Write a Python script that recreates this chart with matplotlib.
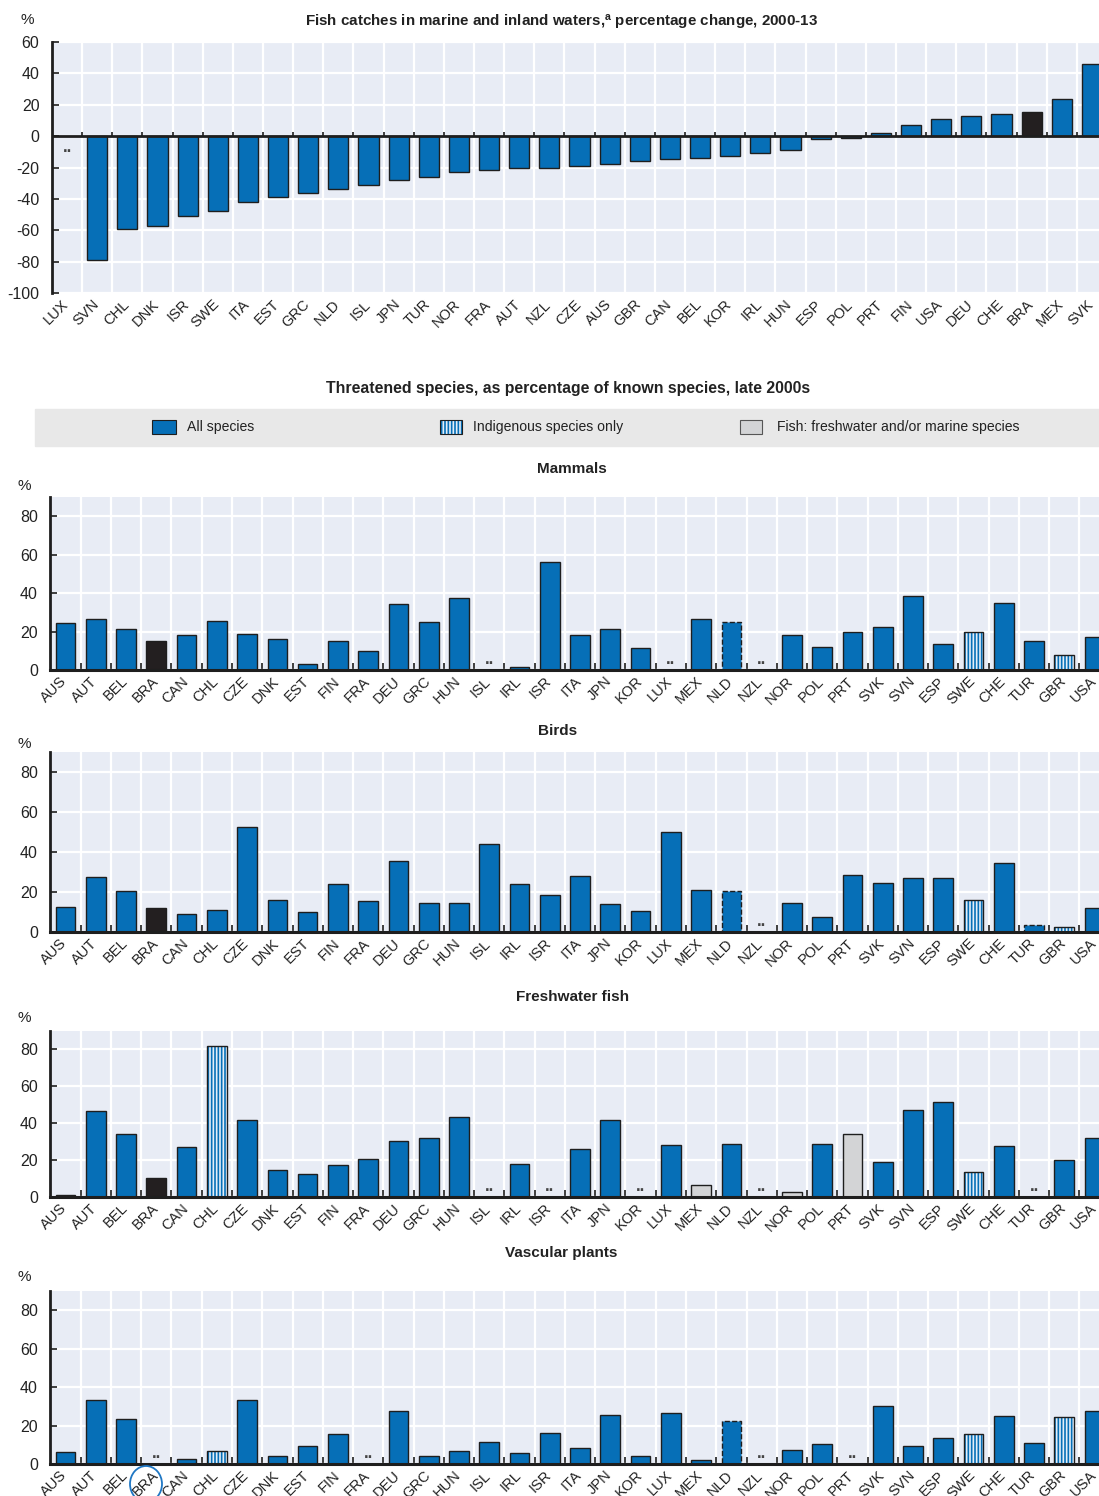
import numpy as np
import matplotlib
matplotlib.use("Agg")
import matplotlib.pyplot as plt
from matplotlib import font_manager
from matplotlib.transforms import ScaledTranslation
from matplotlib.patches import Rectangle, Ellipse

# prefer a narrow sans face when one is available
installed = {f.name for f in font_manager.fontManager.ttflist}
if 'Liberation Sans Narrow' in installed:
    families = ['Liberation Sans Narrow', 'DejaVu Sans']
    scale = 1.1
else:
    families = ['Liberation Sans', 'DejaVu Sans']
    scale = 1.0
plt.rcParams['font.family'] = families
plt.rcParams['mathtext.default'] = 'regular'
plt.rcParams['axes.unicode_minus'] = False
plt.rcParams['hatch.linewidth'] = 1.2

# --- fish catches, % change 2000-13 (None = not available) ---
catch_countries = ['LUX', 'SVN', 'CHL', 'DNK', 'ISR', 'SWE', 'ITA', 'EST', 'GRC', 'NLD',
                   'ISL', 'JPN', 'TUR', 'NOR', 'FRA', 'AUT', 'NZL', 'CZE', 'AUS', 'GBR',
                   'CAN', 'BEL', 'KOR', 'IRL', 'HUN', 'ESP', 'POL', 'PRT', 'FIN', 'USA',
                   'DEU', 'CHE', 'BRA', 'MEX', 'SVK']
catch_change = [None, -79, -59, -57, -51, -48, -42, -39, -36, -34,
                -31, -28, -26, -23, -21.5, -20.5, -20, -19, -18, -16,
                -14.7, -14, -12.6, -11, -9, -2, -1.5, 2.3, 7.4, 11,
                12.8, 13.8, 15.1, 23.8, 45.7]

# --- threatened species, % of known species, late 2000s ---
species_countries = ['AUS', 'AUT', 'BEL', 'BRA', 'CAN', 'CHL', 'CZE', 'DNK', 'EST', 'FIN',
                     'FRA', 'DEU', 'GRC', 'HUN', 'ISL', 'IRL', 'ISR', 'ITA', 'JPN', 'KOR',
                     'LUX', 'MEX', 'NLD', 'NZL', 'NOR', 'POL', 'PRT', 'SVK', 'SVN', 'ESP',
                     'SWE', 'CHE', 'TUR', 'GBR', 'USA']
mammals = [24.3, 26.7, 21.3, 15.0, 18.3, 25.7, 18.7, 16.2, 3.1, 15.2,
           10.0, 34.2, 25.0, 37.6, None, 1.4, 56.4, 18.2, 21.1, 11.2,
           None, 26.7, 25.2, None, 18.2, 11.9, 19.6, 22.4, 38.4, 13.3,
           19.9, 34.6, 15.2, 7.9, 17.3]
birds = [12.6, 27.3, 20.6, 12.0, 8.8, 10.8, 52.6, 16.1, 10.1, 24.0,
         15.6, 35.6, 14.3, 14.6, 44.1, 24.1, 18.5, 27.8, 14.0, 10.5,
         50.1, 20.8, 20.6, None, 14.6, 7.5, 28.3, 24.5, 27.1, 26.8,
         16.0, 34.6, 3.7, 2.3, 12.1]
freshwater_fish = [1.3, 46.7, 34.2, 10.3, 27.2, 82.0, 41.8, 14.8, 12.3, 17.5,
                   20.7, 30.5, 31.9, 43.4, None, 18.0, None, 25.9, 41.8, None,
                   28.1, 6.5, 28.5, None, 2.7, 28.8, 33.9, 19.1, 47.2, 51.5,
                   13.5, 27.4, None, 20.2, 31.9]
vascular_plants = [6.4, 33.5, 23.4, None, 2.8, 6.9, 33.3, 4.0, 9.4, 15.8,
                   None, 27.4, 4.2, 6.8, 11.6, 5.7, 16.3, 8.3, 25.3, 4.2,
                   26.6, 2.1, 22.4, None, 7.3, 10.4, None, 30.4, 9.5, 13.5,
                   15.6, 25.2, 10.8, 24.3, 27.4]

# countries drawn differently in each panel
partner_countries = ['BRA']
mammals_indigenous = ['SWE', 'GBR']
birds_indigenous = ['SWE', 'GBR']
fish_indigenous = ['CHL', 'SWE']
fish_marine = ['MEX', 'NOR', 'PRT']
plants_indigenous = ['CHL', 'SWE', 'GBR']
mammals_dashed = ['NLD']
birds_dashed = ['NLD', 'TUR']
plants_dashed = ['NLD']

BLUE = '#066fb7'
DARK = '#231f20'
EDGE = '#1e1e1e'
TEXT = '#222222'
BG = '#e8ecf5'
GREY = '#d3d4d6'
STRIPE_BG = '#e4eef8'

W, H = 1099, 1496
fig = plt.figure(figsize=(W / 100, H / 100), dpi=100)
label_shift = ScaledTranslation(-4 / 72, 0, fig.dpi_scale_trans)


def fx(px):
    return px / W


def fy(py):
    return 1 - py / H


def style_axes(ax, n, ylim, yticks):
    ax.set_facecolor(BG)
    ax.set_xlim(-0.5, n - 0.5)
    ax.set_ylim(*ylim)
    ax.set_yticks(yticks)
    ax.set_xticks(np.arange(n), minor=False)
    ax.set_xticks(np.arange(0.5, n - 0.5, 1), minor=True)
    ax.set_axisbelow(True)
    ax.grid(which='minor', axis='x', color='white', lw=1.6)
    ax.grid(which='major', axis='y', color='white', lw=1.6)
    for s in ['top', 'right']:
        ax.spines[s].set_visible(False)
    ax.spines['left'].set_linewidth(2)
    ax.spines['left'].set_color(EDGE)
    ax.tick_params(axis='y', direction='in', length=5, width=1.2, color=EDGE,
                   labelsize=11.5 * scale, pad=9, labelcolor=TEXT)
    ax.tick_params(axis='x', which='major', length=0, pad=3, labelsize=10.5 * scale,
                   labelcolor=TEXT)


def set_country_labels(ax, countries):
    ax.set_xticklabels(countries, rotation=45, ha='right', rotation_mode='anchor')
    for lbl in ax.get_xticklabels():
        lbl.set_transform(lbl.get_transform() + label_shift)


def draw_bars(ax, countries, values, width, indigenous=(), grey=(), dashed=(),
              dots_below=False):
    for i, (c, v) in enumerate(zip(countries, values)):
        if v is None:
            if dots_below:
                ax.annotate('..', (i, 0), xytext=(0, -3), textcoords='offset points',
                            ha='center', va='top', fontsize=12, color='#444444',
                            fontweight='bold')
            else:
                ax.annotate('..', (i, 0), xytext=(0, 2), textcoords='offset points',
                            ha='center', va='bottom', fontsize=12, color='#444444',
                            fontweight='bold')
            continue
        ls = '--' if c in dashed else '-'
        if c in indigenous:
            ax.bar(i, v, width=width, color=STRIPE_BG, edgecolor=BLUE,
                   hatch='|||||', linewidth=0, zorder=2)
            ax.bar(i, v, width=width, fill=False, edgecolor=EDGE, linewidth=1.0,
                   linestyle=ls, zorder=3)
        else:
            if c in partner_countries:
                fc = DARK
            elif c in grey:
                fc = GREY
            else:
                fc = BLUE
            ax.bar(i, v, width=width, color=fc, edgecolor=EDGE, linewidth=1.0,
                   linestyle=ls, zorder=2)


# ---------- fish catches ----------
n = len(catch_countries)
ax0 = fig.add_axes([fx(52), fy(293), (1107 - 52) / W, (293 - 42) / H])
style_axes(ax0, n, (-100, 60), np.arange(-100, 61, 20))
ax0.spines['bottom'].set_visible(False)
ax0.tick_params(axis='x', which='minor', length=0)
draw_bars(ax0, catch_countries, catch_change, 0.67, dots_below=True)
ax0.axhline(0, color=EDGE, lw=2, zorder=4)
ax0.vlines(np.arange(0.5, n - 0.5, 1), 0, 2.6, color=EDGE, lw=1.2, zorder=4)
set_country_labels(ax0, catch_countries)
fig.text(fx(27), fy(20), '%', ha='center', va='center', fontsize=11 * scale, color=TEXT)
fig.text(fx(562), fy(23),
         'Fish catches in marine and inland waters,$^{a}$ percentage change, 2000-13',
         ha='center', va='center', fontsize=10.9 * scale, fontweight='bold', color=TEXT)

# ---------- threatened species ----------
fig.text(fx(568), fy(388), 'Threatened species, as percentage of known species, late 2000s',
         ha='center', va='center', fontsize=11.4 * scale, fontweight='bold', color=TEXT)

# legend band
fig.patches.append(Rectangle((fx(35), fy(446)), (1099 - 35) / W, 37 / H,
                             transform=fig.transFigure, color='#e8e8e8', zorder=0))
kw = dict(transform=fig.transFigure, lw=0.8)
fig.patches.append(Rectangle((fx(152), fy(434)), 24 / W, 14 / H, facecolor=BLUE,
                             edgecolor=EDGE, **kw))
fig.patches.append(Rectangle((fx(440), fy(434)), 22 / W, 14 / H, facecolor=STRIPE_BG,
                             edgecolor=BLUE, hatch='|||||', linewidth=0,
                             transform=fig.transFigure))
fig.patches.append(Rectangle((fx(440), fy(434)), 22 / W, 14 / H, fill=False,
                             edgecolor=EDGE, **kw))
fig.patches.append(Rectangle((fx(740), fy(434)), 22 / W, 14 / H, facecolor=GREY,
                             edgecolor='#555555', **kw))
for xpos, label in [(187, 'All species'), (473, 'Indigenous species only'),
                    (777, 'Fish: freshwater and/or marine species')]:
    fig.text(fx(xpos), fy(427), label, ha='left', va='center', fontsize=10.1 * scale,
             color=TEXT)

panels = [
    ('Mammals', mammals, mammals_indigenous, (), mammals_dashed, 497, 670, 572, 469, 486),
    ('Birds', birds, birds_indigenous, (), birds_dashed, 752, 932, 558, 731, 744),
    ('Freshwater fish', freshwater_fish, fish_indigenous, fish_marine, (), 1031, 1197,
     573, 997, 1018),
    ('Vascular plants', vascular_plants, plants_indigenous, (), plants_dashed, 1291, 1464,
     561, 1253, 1277),
]

n = len(species_countries)
for title, vals, indig, grey, dashed, top, bottom, tx, ty, py in panels:
    ax = fig.add_axes([fx(50.4), fy(bottom), (1109.7 - 50.4) / W, (bottom - top) / H])
    style_axes(ax, n, (0, 90), np.arange(0, 81, 20))
    ax.spines['bottom'].set_linewidth(2.2)
    ax.spines['bottom'].set_color(EDGE)
    ax.spines['bottom'].set_zorder(5)
    ax.tick_params(axis='x', which='minor', direction='in', length=5, width=1.2,
                   color=EDGE)
    draw_bars(ax, species_countries, vals, 0.65, indigenous=indig, grey=grey,
              dashed=dashed)
    set_country_labels(ax, species_countries)
    fig.text(fx(tx), fy(ty), title, ha='center', va='center', fontsize=11 * scale,
             fontweight='bold', color=TEXT)
    fig.text(fx(24), fy(py), '%', ha='center', va='center', fontsize=11 * scale,
             color=TEXT)

# highlight ring around a label in the plants panel
fig.add_artist(Ellipse((fx(146), fy(1484)), 32 / W, 36 / H, fill=False,
                       edgecolor='#1f77c4', lw=1.3, transform=fig.transFigure))

fig.savefig('out.png', dpi=100)
